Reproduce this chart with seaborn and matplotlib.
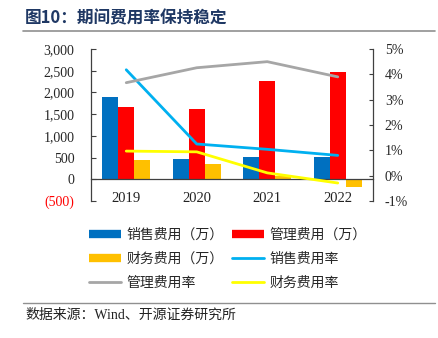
import matplotlib
matplotlib.use("Agg")
import matplotlib.pyplot as plt
from matplotlib.lines import Line2D
from matplotlib.ticker import FixedLocator, FuncFormatter
import seaborn as sns
import pandas as pd

years = ["2019", "2020", "2021", "2022"]
sales_exp = [1900, 467, 520, 506]
admin_exp = [1662, 1609, 2260, 2467]
fin_exp = [444, 352, 80, -180]
sales_rate = [4.18, 1.25, 1.04, 0.80]
admin_rate = [3.67, 4.26, 4.50, 3.90]
fin_rate = [0.97, 0.94, 0.11, -0.29]

bar_names = ["销售费用（万）", "管理费用（万）", "财务费用（万）"]
line_names = ["销售费用率", "管理费用率", "财务费用率"]
bar_colors = ["#0070C0", "#FF0000", "#FFC000"]
line_colors = ["#00B0F0", "#A6A6A6", "#FFFF00"]

sns.set_theme(style="white")
plt.rcParams["font.family"] = ["Liberation Serif", "Noto Sans CJK SC"]

fig = plt.figure(figsize=(4.38, 3.38), dpi=100)
ax = fig.add_axes([91 / 438, 1 - 201 / 338, (373 - 91) / 438, (201 - 49) / 338])

df = pd.DataFrame({
    "year": years * 3,
    "cat": [bar_names[0]] * 4 + [bar_names[1]] * 4 + [bar_names[2]] * 4,
    "value": sales_exp + admin_exp + fin_exp,
})
sns.barplot(data=df, x="year", y="value", hue="cat", palette=bar_colors,
            width=0.68, saturation=1, linewidth=0, legend=False, ax=ax)
ax.set_xlim(-0.5, 3.5)
ax.set_ylim(-500, 3000)
ax.set_yticks(range(-500, 3001, 500))
ax.yaxis.set_major_formatter(FuncFormatter(
    lambda v, p: f"({abs(int(v)):,})" if v < 0 else f"{int(v):,}"))
ax.set_xlabel("")
ax.set_ylabel("")
ax.set_xticks(range(4))
ax.set_xticklabels(years)
ax.xaxis.set_minor_locator(FixedLocator([0.5, 1.5, 2.5]))
ax.tick_params(axis="x", which="major", length=0, pad=9, labelsize=10.5, colors="#222222")
ax.tick_params(axis="x", which="minor", length=3, direction="out", width=0.8, color="#404040")
ax.tick_params(axis="y", direction="in", length=3.5, width=0.8, color="#404040",
               pad=12, labelsize=10, left=True)
fig.canvas.draw()
for lbl in ax.get_yticklabels():
    if lbl.get_text().startswith("("):
        lbl.set_color("#FF0000")
ax.spines["top"].set_visible(False)
ax.spines["right"].set_visible(False)
ax.spines["bottom"].set_position(("data", 0))
for s in ("left", "bottom"):
    ax.spines[s].set_color("#404040")
    ax.spines[s].set_linewidth(0.9)
ax.grid(False)

ax2 = ax.twinx()
xs = [0, 1, 2, 3]
for vals, c in zip([sales_rate, admin_rate, fin_rate], line_colors):
    sns.lineplot(x=xs, y=vals, color=c, linewidth=2, ax=ax2)
ax2.set_ylim(-1, 5)
ax2.set_yticks(range(-1, 6))
ax2.yaxis.set_major_formatter(FuncFormatter(lambda v, p: f"{int(v)}%"))
ax2.tick_params(axis="y", direction="in", length=3, width=0.8, color="#404040",
                pad=8.5, labelsize=10, right=True)
for s in ("top", "left", "bottom"):
    ax2.spines[s].set_visible(False)
ax2.spines["right"].set_color("#404040")
ax2.spines["right"].set_linewidth(0.9)
ax2.set_ylabel("")
ax2.grid(False)

# legend (row-major order emulated)
h = {}
for n, c in zip(bar_names, bar_colors):
    h[n] = Line2D([], [], color=c, linewidth=6, solid_capstyle="butt")
for n, c in zip(line_names, line_colors):
    h[n] = Line2D([], [], color=c, linewidth=2)
order = [bar_names[0], bar_names[2], line_names[1], bar_names[1], line_names[0], line_names[2]]
fig.legend([h[n] for n in order], order, ncol=2, loc="upper center",
           bbox_to_anchor=(228 / 438, 1 - 215 / 338), frameon=False,
           prop={"family": ["Noto Sans CJK SC"], "size": 10},
           handlelength=2.3, handletextpad=0.4, columnspacing=0.6, labelspacing=0.72)

# title, rules and source
fig.text(25 / 438, 1 - 18 / 338, "图10：期间费用率保持稳定", fontsize=12, fontweight="bold",
         color="#1F3864", va="center", ha="left", family=["Noto Sans CJK SC"])
fig.add_artist(Line2D([23 / 438, 435 / 438], [1 - 31 / 338] * 2, color="#909090", linewidth=1.2))
fig.add_artist(Line2D([23 / 438, 435 / 438], [1 - 303 / 338] * 2, color="#909090", linewidth=1.0))
fig.text(25 / 438, 1 - 315 / 338, "数据来源：Wind、开源证券研究所", fontsize=10,
         color="#222222", va="center", ha="left")

fig.savefig("out.png", dpi=100)
